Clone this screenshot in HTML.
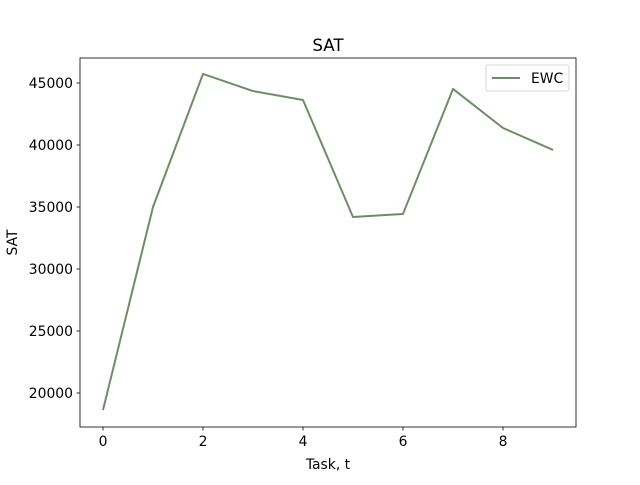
<!DOCTYPE html>
<html><head><meta charset="utf-8"><style>
html,body{margin:0;padding:0;background:#fff;}
svg text{font-family:"DejaVu Sans","Liberation Sans",sans-serif;fill:#000;}
</style></head><body>
<svg width="640" height="480" xmlns="http://www.w3.org/2000/svg">
<rect width="640" height="480" fill="#fff"/>
<g id="plot"></g>
</svg>
<script>
const tasks=[0,1,2,3,4,5,6,7,8,9];
const ewcValues=[18630,35000,45730,44350,43630,34190,34440,44520,41370,39600];
const xTicks=[0,2,4,6,8];
const yTicks=[20000,25000,30000,35000,40000,45000];
const L=80,R=576,T=58,B=427;
const xMin=-0.46,xMax=9.46,yMin=17258,yMax=47016;
const sx=v=>L+(v-xMin)/(xMax-xMin)*(R-L);
const sy=v=>B-(v-yMin)/(yMax-yMin)*(B-T);
const ns='http://www.w3.org/2000/svg';
const g=document.getElementById('plot');
function mk(tag,attrs,text){const e=document.createElementNS(ns,tag);for(const k in attrs)e.setAttribute(k,attrs[k]);if(text!==undefined)e.textContent=text;g.appendChild(e);return e;}
let d=tasks.map((t,i)=>(i?'L':'M')+sx(t).toFixed(2)+','+sy(ewcValues[i]).toFixed(2)).join(' ');
const line=mk('path',{d:d,fill:'none',stroke:'#6b8f63','stroke-width':2,'stroke-linejoin':'round'});


const fr=mk('rect',{x:L,y:T,width:R-L,height:B-T,fill:'none',stroke:'#000','stroke-width':0.8});


xTicks.forEach(v=>{
  const x=sx(v);
  mk('line',{x1:x,x2:x,y1:B,y2:B+3.5,stroke:'#000','stroke-width':0.8});
  const t=mk('text',{x:x,y:B+19,'text-anchor':'middle','font-size':13.9},String(v));
  
  
});
yTicks.forEach(v=>{
  const y=sy(v);
  mk('line',{x1:L-3.5,x2:L,y1:y,y2:y,stroke:'#000','stroke-width':0.8});
  const t=mk('text',{x:L-7,y:y+5,'text-anchor':'end','font-size':13.9},String(v));
  
  
});
const title=mk('text',{x:(L+R)/2,y:T-7,'text-anchor':'middle','font-size':16.7},'SAT');


const xl=mk('text',{x:(L+R)/2,y:469,'text-anchor':'middle','font-size':13.9},'Task, t');


const yl=mk('text',{x:17,y:(T+B)/2,'text-anchor':'middle','font-size':13.9,transform:'rotate(-90 17 '+((T+B)/2)+')'},'SAT');


const lg=mk('rect',{x:486,y:65,width:83,height:26,rx:2,fill:'#fff','fill-opacity':0.8,stroke:'#ccc','stroke-width':0.8});


mk('line',{x1:492,x2:520,y1:78,y2:78,stroke:'#6b8f63','stroke-width':2});
const lt=mk('text',{x:531,y:83,'font-size':13.9},'EWC');


</script>
</body></html>
